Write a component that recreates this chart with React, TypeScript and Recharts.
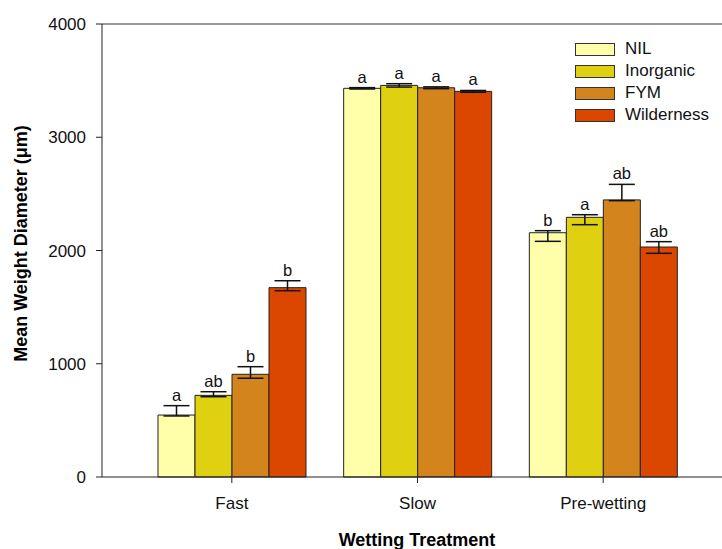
import React from "react";
import {
  BarChart,
  Bar,
  XAxis,
  YAxis,
  ErrorBar,
  LabelList,
  ReferenceLine,
} from "recharts";

const categories = ["Fast", "Slow", "Pre-wetting"];
const seriesNames = ["NIL", "Inorganic", "FYM", "Wilderness"];
const colors = ["#FFFFAA", "#E0D012", "#D4841C", "#DC4700"];

// means
const nil = [547, 3432, 2157];
const inorganic = [721, 3458, 2293];
const fym = [907, 3437, 2447];
const wilderness = [1672, 3405, 2031];

// [below, above] error lengths
const nilErr = [[8, 83], [6, 6], [76, 18]];
const inorganicErr = [[12, 32], [15, 15], [65, 23]];
const fymErr = [[35, 67], [8, 8], [7, 137]];
const wildernessErr = [[27, 61], [8, 8], [56, 47]];

// significance letters
const nilLetters = ["a", "a", "b"];
const inorganicLetters = ["ab", "a", "a"];
const fymLetters = ["b", "a", "ab"];
const wildernessLetters = ["b", "a", "ab"];

const yTicks = [0, 1000, 2000, 3000, 4000];

const values = [nil, inorganic, fym, wilderness];
const errs = [nilErr, inorganicErr, fymErr, wildernessErr];
const letters = [nilLetters, inorganicLetters, fymLetters, wildernessLetters];

const data = categories.map((name, i) => {
  const row: any = { name };
  seriesNames.forEach((s, k) => {
    row[s] = values[k][i];
    row[s + "_err"] = errs[k][i];
  });
  return row;
});

const FONT = "'Liberation Sans', Arial, sans-serif";

const letterContent = (k: number) => (props: any) => {
  const { x, y, width, height, value, index } = props;
  if (!value) return null;
  const upper = errs[k][index][1];
  const capY = y - upper * (height / value);
  return (
    <text
      x={x + width / 2}
      y={capY - 5}
      textAnchor="middle"
      fontSize={16.5}
      fontFamily={FONT}
      fill="#111"
    >
      {letters[k][index]}
    </text>
  );
};

// legend drawn as plain html over the plot
const ChartLegend = () => (
  <div
    style={{
      position: "absolute",
      left: 575,
      top: 38,
      fontFamily: FONT,
      fontSize: 17,
      color: "#111",
    }}
  >
    {seriesNames.map((s, k) => (
      <div
        key={s}
        style={{ display: "flex", alignItems: "center", height: 22 }}
      >
        <div
          style={{
            width: 38,
            height: 11,
            background: colors[k],
            border: "1px solid #333",
            marginRight: 10,
          }}
        />
        <span>{s}</span>
      </div>
    ))}
  </div>
);

const YTitle = (props: any) => {
  const vb = props.viewBox || {};
  const cx = 22;
  const cy = (vb.y ?? 24) + (vb.height ?? 453) / 2 - 7;
  return (
    <text
      x={cx}
      y={cy}
      transform={`rotate(-90 ${cx} ${cy})`}
      textAnchor="middle"
      dominantBaseline="middle"
      fontSize={18}
      fontWeight="bold"
      fontFamily={FONT}
      fill="#000"
    >
      Mean Weight Diameter (μm)
    </text>
  );
};

export default function App() {
  return (
    <div style={{ position: "absolute", left: 0, top: 0, width: 722, height: 549 }}>
      <BarChart
        width={722}
        height={549}
        data={data}
        margin={{ top: 24, right: 0, bottom: 0, left: 0 }}
        barGap={0}
        barSize={37}
        style={{ fontFamily: FONT }}
      >
        <XAxis
          dataKey="name"
          height={72}
          padding={{ left: 37, right: 26 }}
          tickSize={6}
          tickMargin={14}
          stroke="#222"
          tick={{ fill: "#111", fontSize: 17, fontFamily: FONT }}
          label={{
            value: "Wetting Treatment",
            position: "insideBottom",
            offset: 3,
            dx: 5,
            style: {
              fontWeight: "bold",
              fontSize: 18,
              fill: "#000",
              fontFamily: FONT,
            },
          }}
        />
        <YAxis
          width={102}
          domain={[0, 4000]}
          ticks={yTicks}
          interval={0}
          tickSize={6}
          tickMargin={10}
          stroke="#222"
          tick={{ fill: "#111", fontSize: 17, fontFamily: FONT }}
          label={<YTitle />}
        />
        <ReferenceLine y={4000} stroke="#333" ifOverflow="extendDomain" />
        {seriesNames.map((s, k) => (
          <Bar
            key={s}
            dataKey={s}
            fill={colors[k]}
            stroke="#222"
            strokeWidth={1}
            isAnimationActive={false}
          >
            <ErrorBar
              dataKey={s + "_err"}
              width={13}
              stroke="#111"
              strokeWidth={1.5}
              direction="y"
            />
            <LabelList dataKey={s} content={letterContent(k)} />
          </Bar>
        ))}
      </BarChart>
      <ChartLegend />
    </div>
  );
}
